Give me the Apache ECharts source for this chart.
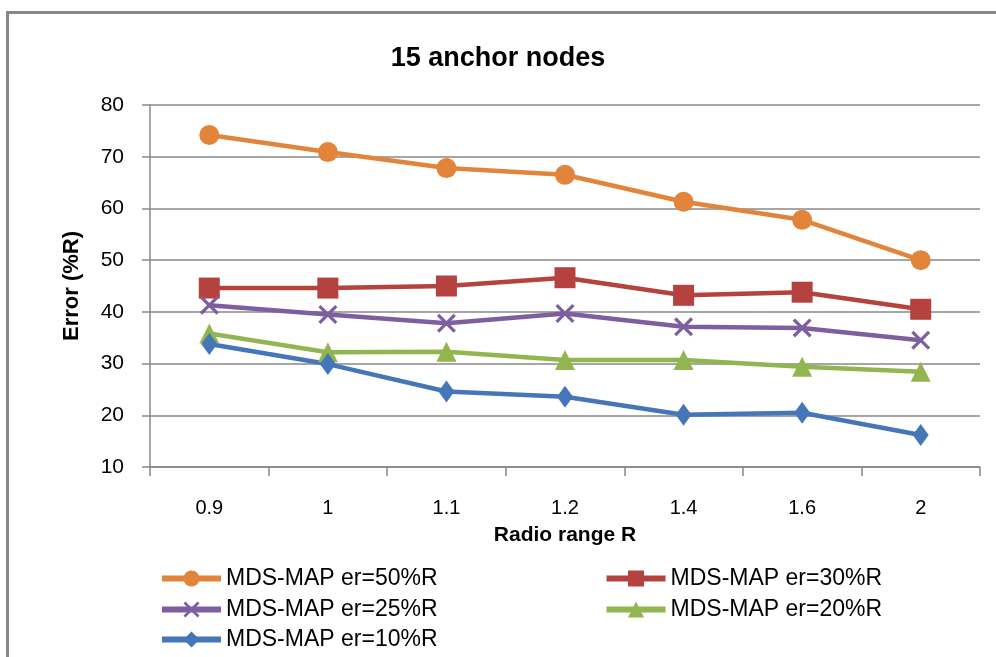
<!DOCTYPE html>
<html>
<head>
<meta charset="utf-8">
<script src="https://cdn.jsdelivr.net/npm/echarts@6/dist/echarts.min.js"></script>
<style>html,body{margin:0;padding:0;background:#fff}#c{width:996px;height:657px}</style>
</head>
<body>
<div id="c"></div>
<script>
var categories = ['0.9', '1', '1.1', '1.2', '1.4', '1.6', '2'];
var er50 = [74.2, 70.9, 67.8, 66.5, 61.3, 57.8, 50.0];
var er30 = [44.6, 44.6, 45.0, 46.6, 43.2, 43.8, 40.5];
var er25 = [41.3, 39.5, 37.8, 39.7, 37.1, 36.9, 34.5];
var er20 = [35.8, 32.2, 32.3, 30.7, 30.7, 29.4, 28.4];
var er10 = [33.8, 29.9, 24.6, 23.6, 20.1, 20.5, 16.2];
var names = ['MDS-MAP er=50%R', 'MDS-MAP er=30%R', 'MDS-MAP er=25%R', 'MDS-MAP er=20%R', 'MDS-MAP er=10%R'];

var FONT = '"Liberation Sans", Arial, sans-serif';
var chart = echarts.init(document.getElementById('c'));
var xPath = 'path://M0,1.2L1.2,0L10,8.8L8.8,10Z M8.8,0L10,1.2L1.2,10L0,8.8Z';

function mk(name, data, color, symbol, size) {
  return {
    name: name, type: 'line', data: data,
    symbol: symbol, symbolSize: size,
    lineStyle: {color: color, width: 4.5},
    itemStyle: {color: color},
    emphasis: {disabled: true},
    animation: false
  };
}
var legendCommon = {
  itemWidth: 59, itemHeight: 20, itemGap: 166,
  lineStyle: {width: 6},
  textStyle: {fontFamily: FONT, fontSize: 23, color: '#000'},
  padding: 0
};
chart.setOption({
  backgroundColor: '#fff',
  animation: false,
  title: {
    text: '15 anchor nodes', left: 'center', top: 40,
    textStyle: {fontFamily: FONT, fontSize: 27, fontWeight: 'bold', color: '#000'}
  },
  graphic: [{
    type: 'rect', shape: {x: 7.5, y: 12.5, width: 1200, height: 1000},
    style: {fill: 'none', stroke: '#888', lineWidth: 3}, silent: true
  }],
  grid: {left: 150, right: 16, top: 105, bottom: 190},
  xAxis: {
    type: 'category', data: categories, boundaryGap: true,
    name: 'Radio range R', nameLocation: 'middle', nameGap: 58,
    nameTextStyle: {fontFamily: FONT, fontSize: 21, fontWeight: 'bold', color: '#000'},
    axisLine: {lineStyle: {color: '#888', width: 1.5}},
    axisTick: {show: true, inside: false, length: 9, alignWithLabel: false, lineStyle: {color: '#888', width: 1.5}},
    axisLabel: {fontFamily: FONT, fontSize: 20, color: '#000', margin: 31}
  },
  yAxis: {
    type: 'value', min: 10, max: 80, interval: 10,
    name: 'Error (%R)', nameLocation: 'middle', nameGap: 67, nameRotate: 90,
    nameTextStyle: {fontFamily: FONT, fontSize: 22, fontWeight: 'bold', color: '#000'},
    axisLine: {show: true, lineStyle: {color: '#888', width: 1.5}},
    axisTick: {show: true, inside: false, length: 8, lineStyle: {color: '#888', width: 1.5}},
    axisLabel: {fontFamily: FONT, fontSize: 21, color: '#000', margin: 26},
    splitLine: {lineStyle: {color: '#888', width: 1.5}}
  },
  legend: [
    Object.assign({data: [names[0], names[1]], left: 159, top: 567}, legendCommon),
    Object.assign({data: [names[2], names[3]], left: 159, top: 598}, legendCommon),
    Object.assign({data: [names[4]], left: 159, top: 628}, legendCommon)
  ],
  series: [
    mk(names[0], er50, '#E2843A', 'circle', 20),
    mk(names[1], er30, '#B5423F', 'rect', 21),
    mk(names[2], er25, '#7D5FA0', xPath, 19),
    mk(names[3], er20, '#93B550', 'triangle', 20),
    mk(names[4], er10, '#4576B8', 'diamond', [16, 22])
  ]
});
</script>
</body>
</html>
